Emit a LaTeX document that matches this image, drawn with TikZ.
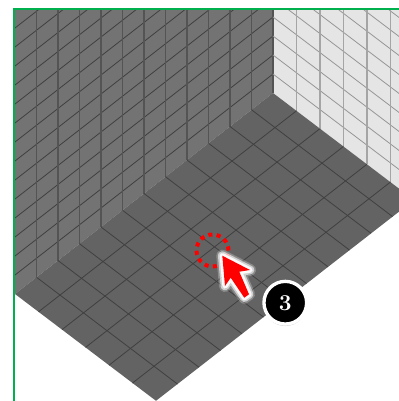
\documentclass[tikz,border=0pt]{standalone}
\usetikzlibrary{shadows}
\definecolor{wallleft}{rgb}{0.45,0.45,0.45}
\definecolor{wallright}{rgb}{0.90,0.90,0.90}
\definecolor{floorgrey}{rgb}{0.39,0.39,0.39}
\definecolor{framegreen}{rgb}{0,0.69,0.31}
\tikzset{every picture/.style={line width=0.75pt}}
\tikzset{
  darkgrid/.style={draw={rgb,255:red,64;green,64;blue,64},line width=0.6pt},
  darkpost/.style={draw={rgb,255:red,84;green,84;blue,84},line width=0.9pt},
  lightgrid/.style={draw={rgb,255:red,150;green,150;blue,150},line width=0.6pt},
  lightpost/.style={draw={rgb,255:red,165;green,165;blue,165},line width=0.9pt},
  pointer/.style={fill=red,draw=none},
  glow/.style={draw=white,line join=round},
  badge/.style={circle,fill=black,draw=white,line width=2.5pt,minimum size=32pt,inner sep=0pt,text=white,font=\bfseries\fontsize{17}{17}\selectfont,drop shadow={shadow xshift=0pt,shadow yshift=-1.5pt,opacity=0.4}},
  marker/.style={circle,draw=red,line width=3pt,dash pattern=on 3.1pt off 3.2pt,minimum size=24pt,inner sep=0pt}
}
\begin{document}
\begin{tikzpicture}[x=0.75pt,y=0.75pt,yscale=-1,xscale=1]
\path[use as bounding box] (0,0) rectangle (399,401);

\begin{scope}
\clip (15,9) rectangle (399,401);
%Shape: Left wall
\fill [wallleft] (15,-10) -- (273,-10) -- (273,93) -- (15,294) -- cycle ;
%Shape: Right wall
\fill [wallright] (273,-10) -- (414,-10) -- (414,200) -- (273,93) -- cycle ;
%Shape: Floor
\fill [floorgrey] (273,93) -- (15,294) -- (156,400.8) -- (414,200) -- cycle ;

%Lines: left wall, slanted
\draw [darkgrid] (273,74) -- (15,275) (273,55) -- (15,256) (273,36) -- (15,237) (273,17) -- (15,218) (273,-2) -- (15,199)
  (273,-21) -- (15,180) (273,-40) -- (15,161) (273,-59) -- (15,142) (273,-78) -- (15,123) (273,-97) -- (15,104)
  (273,-116) -- (15,85) (273,-135) -- (15,66) (273,-154) -- (15,47) (273,-173) -- (15,28) ;
%Lines: left wall, upright
\draw [darkpost] (36.5,9) -- (36.5,277.25) (58,9) -- (58,260.5) (79.5,9) -- (79.5,243.75) (101,9) -- (101,227)
  (122.5,9) -- (122.5,210.25) (144,9) -- (144,193.5) (165.5,9) -- (165.5,176.75) (187,9) -- (187,160)
  (208.5,9) -- (208.5,143.25) (230,9) -- (230,126.5) (251.5,9) -- (251.5,109.75) (273,9) -- (273,93) ;

%Lines: right wall, slanted
\draw [lightgrid] (273,74) -- (414,180.8) (273,55) -- (414,161.8) (273,36) -- (414,142.8) (273,17) -- (414,123.8)
  (273,-2) -- (414,104.8) (273,-21) -- (414,85.8) (273,-40) -- (414,66.8) (273,-59) -- (414,47.8) (273,-78) -- (414,28.8) ;
%Lines: right wall, upright
\draw [lightpost] (296.5,9) -- (296.5,110.8) (320,9) -- (320,128.6) (343.5,9) -- (343.5,146.4) (367,9) -- (367,164.2) (390.5,9) -- (390.5,182) ;

%Lines: floor, running down to the right
\draw [darkgrid] (251.5,109.75) -- (392.5,216.55) (230,126.5) -- (371,233.3) (208.5,143.25) -- (349.5,250.05) (187,160) -- (328,266.8)
  (165.5,176.75) -- (306.5,283.55) (144,193.5) -- (285,300.3) (122.5,210.25) -- (263.5,317.05) (101,227) -- (242,333.8)
  (79.5,243.75) -- (220.5,350.55) (58,260.5) -- (199,367.3) (36.5,277.25) -- (177.5,384.05) ;
%Lines: floor, running down to the left
\draw [darkgrid] (296.5,110.8) -- (38.5,311.8) (320,128.6) -- (62,329.6) (343.5,146.4) -- (85.5,347.4) (367,164.2) -- (109,365.2) (390.5,182) -- (132.5,383) ;
\end{scope}

%Frame
\draw [framegreen,line width=1.8pt] (14.2,401) -- (14.2,9.2) -- (399,9.2) ;

% Marker
\node [marker] (target) at (212.5,250.5) {};

%Shape: Pointer
\draw [glow,opacity=0.25,line width=9pt] (222.3,255.7) -- (250,270) -- (239.3,271.7) -- (249,294.3) -- (244.3,297.7) -- (230.7,277.7) -- (225,286) -- cycle ;
\draw [glow,opacity=0.6,line width=6.5pt] (222.3,255.7) -- (250,270) -- (239.3,271.7) -- (249,294.3) -- (244.3,297.7) -- (230.7,277.7) -- (225,286) -- cycle ;
\draw [glow,opacity=0.9,line width=4pt] (222.3,255.7) -- (250,270) -- (239.3,271.7) -- (249,294.3) -- (244.3,297.7) -- (230.7,277.7) -- (225,286) -- cycle ;
\path [pointer] (222.3,255.7) -- (250,270) -- (239.3,271.7) -- (249,294.3) -- (244.3,297.7) -- (230.7,277.7) -- (225,286) -- cycle ;

% Text Node
\node [badge] (step3) at (285.3,302.7) {3};
\end{tikzpicture}
\end{document}
